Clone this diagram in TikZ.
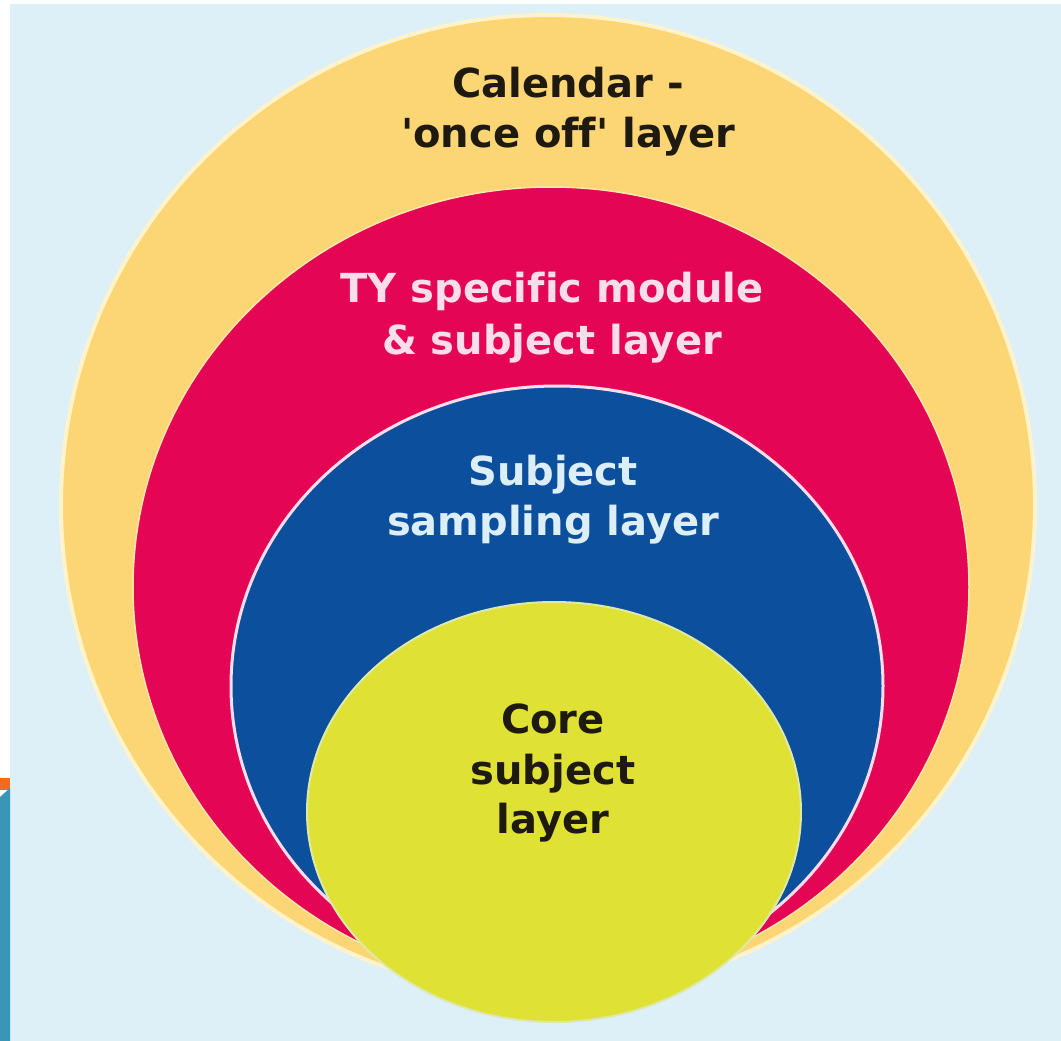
\documentclass[tikz,border=0pt]{standalone}
\usepackage{fontspec}
\setmainfont{DejaVu Sans}[Ligatures={TeXOff,NoCommon}]
\definecolor{bgblue}{HTML}{DDEFF7}
\definecolor{calyellow}{HTML}{FCD674}
\definecolor{calrim}{HTML}{FFF3CC}
\definecolor{typink}{HTML}{E40554}
\definecolor{sampblue}{HTML}{0C4F9C}
\definecolor{coregreen}{HTML}{DFE234}
\definecolor{darktext}{HTML}{1E1A10}
\definecolor{pinktext}{HTML}{FBDDEB}
\definecolor{bluetext}{HTML}{DCEEF8}
\definecolor{stripteal}{HTML}{3A96B6}
\definecolor{striporange}{HTML}{F26B21}
\tikzset{
  layertext/.style={font=\bfseries\fontsize{40}{50}\selectfont, anchor=base, inner sep=0pt},
}
\begin{document}
\begin{tikzpicture}[x=1pt,y=-1pt]
\useasboundingbox (0,0) rectangle (1061,1041);
\fill[white] (0,0) rectangle (1061,1041);
\fill[bgblue] (10,4) rectangle (1061,1041);
% left strip
\fill[striporange] (0,778) rectangle (10,790);
\fill[stripteal] (0,797) -- (10,788) -- (10,1041) -- (0,1041) -- cycle;
% layers
\filldraw[fill=calyellow, draw=calrim, line width=4pt] (548,505) ellipse [x radius=487, y radius=490];
\filldraw[fill=typink, draw=calrim!60!calyellow, line width=1.5pt] (551,587) ellipse [x radius=418, y radius=400];
\filldraw[fill=sampblue, draw=pinktext, line width=3pt] (557,686) ellipse [x radius=326, y radius=300];
\filldraw[fill=coregreen, draw=bluetext!60!coregreen, line width=2pt] (554,812) ellipse [x radius=247, y radius=210];
% labels
\node[layertext, text=darktext] (cal1) at (568,98) {Calendar -};
\node[layertext, text=darktext] (cal2) at (568,147) {'once off' layer};
\node[layertext, text=pinktext] (ty1) at (552,302) {TY specific module};
\node[layertext, text=pinktext] (ty2) at (552,354) {\& subject layer};
\node[layertext, text=bluetext] (samp1) at (553,485) {Subject};
\node[layertext, text=bluetext] (samp2) at (553,535) {sampling layer};
\node[layertext, text=darktext] (core1) at (553,733) {Core};
\node[layertext, text=darktext] (core2) at (553,784) {subject};
\node[layertext, text=darktext] (core3) at (553,833) {layer};
\end{tikzpicture}
\end{document}
